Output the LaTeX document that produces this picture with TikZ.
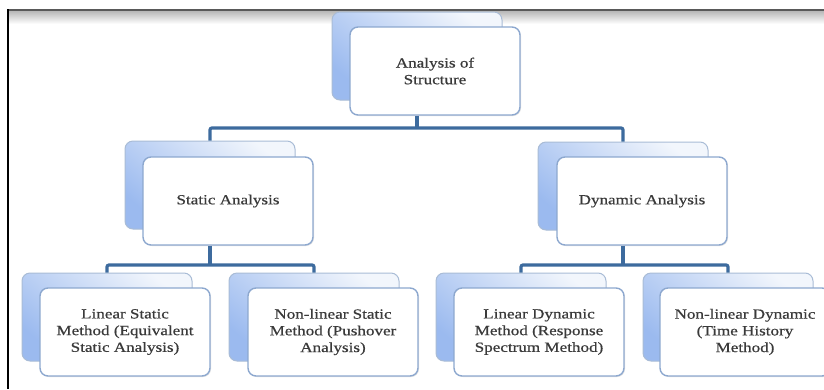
\documentclass[tikz,border=0pt]{standalone}
\usepackage{fontspec}
\setmainfont[FakeStretch=1.22,FakeBold=0.6]{Liberation Serif}
\usetikzlibrary{shadows}
\definecolor{conncol}{HTML}{3D6B9E}
\definecolor{frontedge}{HTML}{8DA8CF}
\definecolor{backedge}{HTML}{A9BCD6}
\definecolor{backblue}{HTML}{9BBAEF}
\definecolor{backlight}{HTML}{F2F6FC}
\definecolor{txt}{HTML}{3A3A3A}
\tikzset{
  backbox/.style={draw=backedge, line width=1pt, rounded corners=8pt,
    minimum width=170pt, minimum height=88pt, inner sep=0pt,
    top color=backlight, bottom color=backblue, shading angle=-40},
  frontbox/.style={draw=frontedge, line width=1.4pt, rounded corners=8pt, fill=white,
    minimum width=170pt, minimum height=88pt, inner sep=2pt, align=center,
    text=txt, font=\fontsize{14}{16.7}\selectfont,
    drop shadow={opacity=0.22, shadow xshift=1pt, shadow yshift=-1pt}},
  conn/.style={draw=conncol, line width=3.2pt, rounded corners=2pt}
}
\begin{document}
\begin{tikzpicture}[x=1pt,y=-1pt]
\useasboundingbox (0,0) rectangle (824,389);
\clip (0,0) rectangle (824,389);
\fill[white] (0,0) rectangle (824,389);
% frame
\shade[top color=black!30, bottom color=white] (8,10) rectangle (824,24);
\draw[black!65, line width=2pt] (8,9.5) -- (824,9.5);
\draw[black, line width=1.5pt] (8,9) -- (8,389);
% back boxes
\node[backbox] (bT) at (417,56) {};
\node[backbox] (bS) at (210,185) {};
\node[backbox] (bD) at (623,186) {};
\node[backbox] (b1) at (107,317) {};
\node[backbox] (b2) at (314,317) {};
\node[backbox] (b3) at (521,317) {};
\node[backbox] (b4) at (728,317) {};
% front boxes
\node[frontbox] (fT) at (435,71) {Analysis of\\Structure};
\node[frontbox] (fS) at (228,201) {Static Analysis};
\node[frontbox] (fD) at (642,201) {Dynamic Analysis};
\node[frontbox] (f1) at (125,332) {Linear Static\\Method (Equivalent\\Static Analysis)};
\node[frontbox] (f2) at (333,332) {Non-linear Static\\Method (Pushover\\Analysis)};
\node[frontbox] (f3) at (539,332) {Linear Dynamic\\Method (Response\\Spectrum Method)};
\node[frontbox] (f4) at (745,332) {Non-linear Dynamic\\(Time History\\Method)};
% connectors
\coordinate (j0) at (417,128);
\coordinate (jS) at (210,265);
\coordinate (jD) at (623,265);
\draw[conn] (bT |- fT.south) -- (j0);
\draw[conn] (bS.north) |- (j0) -| (bD.north);
\draw[conn] (bS |- fS.south) -- (jS);
\draw[conn] (b1.north) |- (jS) -| (b2.north);
\draw[conn] (bD |- fD.south) -- (jD);
\draw[conn] (b3.north) |- (jD) -| (b4.north);
\end{tikzpicture}
\end{document}
